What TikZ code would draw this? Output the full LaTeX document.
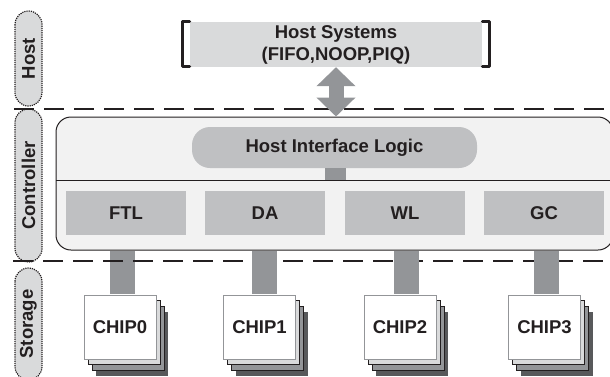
\documentclass[tikz,border=0pt]{standalone}
\usepackage{fontspec}
\setmainfont{Liberation Sans}
\usetikzlibrary{arrows.meta,positioning}

\definecolor{lightgrey}{HTML}{D9DADB}
\definecolor{midgrey}{HTML}{BFC0C2}
\definecolor{linkgrey}{HTML}{939598}
\definecolor{darkgrey}{HTML}{58595B}
\definecolor{panelgrey}{HTML}{F2F2F2}
\definecolor{inkblack}{HTML}{231F20}

\tikzset{
  labelfont/.style={text=inkblack,font=\bfseries\fontsize{18.5}{22}\selectfont},
  layerpill/.style={draw=inkblack,densely dotted,line width=1.2pt,fill=lightgrey,rounded corners=13.5pt,
    minimum width=#1,minimum height=27pt,rotate=90,inner sep=0pt,labelfont},
  modulebox/.style={fill=midgrey,minimum width=120pt,minimum height=44pt,inner sep=0pt,labelfont},
  chipbox/.style={draw=#1,line width=0.8pt,minimum width=72pt,minimum height=64pt,inner sep=0pt,labelfont},
  link/.style={draw=linkgrey,line width=25pt,shorten <=0.6pt,shorten >=0.4pt},
  layerline/.style={draw=inkblack,line width=2pt,dash pattern=on 20pt off 10pt},
  bracket/.style={draw=inkblack,line width=3.5pt,line cap=round,line join=round}
}

\begin{document}
\begin{tikzpicture}[x=1pt,y=-1pt]

    \useasboundingbox (0,0) rectangle (610,376);

    % layers
    \node[layerpill=95pt] (host) at (28.5,58.5) {Host};
    \node[layerpill=153pt] (controller) at (28.5,185.5) {Controller};
    \node[layerpill=112pt] (storage) at (28.5,324) {Storage};

    % host systems
    \node[fill=lightgrey,minimum width=292pt,minimum height=45pt,inner sep=0pt,align=center,labelfont] (hostsys)
      at (336,44.5) {Host Systems\\(FIFO,NOOP,PIQ)};
    \draw[bracket] (189.5,21.5) -- (182.5,21.5) -- (182.5,66.5) -- (189.5,66.5);
    \draw[bracket] (482.5,21.5) -- (489.5,21.5) -- (489.5,66.5) -- (482.5,66.5);

    % controller
    \node[draw=inkblack,line width=1pt,fill=panelgrey,rounded corners=15pt,minimum width=557pt,minimum height=133pt,
      inner sep=0pt] (ctrlpanel) at (334.5,183.5) {};
    \coordinate (split_left) at (56,180);
    \coordinate (split_right) at (613,180);

    \node[fill=midgrey,rounded corners=18pt,minimum width=285pt,minimum height=41pt,inner sep=0pt,labelfont] (hil)
      at (334.5,147.5) {Host Interface Logic};
    \coordinate (hil_x) at (335.5,0);
    \draw[link,line width=21pt,shorten <=0pt,shorten >=0pt] (hil.south -| hil_x) -- (split_left -| hil_x);
    \draw[draw=inkblack,line width=1pt] (split_left) -- (split_right);

    \node[modulebox] (ftl) at (126,213) {FTL};
    \node[modulebox] (da) at (265,213) {DA};
    \node[modulebox] (wl) at (405,213) {WL};
    \node[modulebox] (gc) at (544,213) {GC};

    % chips
    \foreach \name/\cx/\lx in {0/120/122.5, 1/259.5/264.5, 2/400/406.5, 3/544.5/546.5} {
      \node[chipbox=inkblack,fill=darkgrey,draw=none] at (\cx+12,343.5) {};
      \node[chipbox=inkblack,fill=linkgrey] at (\cx+8,338.5) {};
      \node[chipbox=inkblack,fill=lightgrey] at (\cx+4,332.5) {};
      \node[chipbox=linkgrey,fill=white] (chip\name) at (\cx,327) {CHIP\name};
      \coordinate (link_x\name) at (\lx,0);
    }

    \draw[link] (ctrlpanel.south -| link_x0) -- (chip0.north -| link_x0);

    % layer borders
    \coordinate (border_top) at (14,108.5);
    \coordinate (border_bottom) at (13,261);
    \draw[layerline] (border_top) -- ++(590,0);
    \draw[layerline] (border_bottom) -- ++(590,0);

    \draw[link] (ctrlpanel.south -| link_x1) -- (chip1.north -| link_x1);
    \draw[link] (ctrlpanel.south -| link_x2) -- (chip2.north -| link_x2);
    \draw[link] (ctrlpanel.south -| link_x3) -- (chip3.north -| link_x3);

    % host link
    \coordinate (host_x) at (336,0);
    \draw[{Triangle[length=19pt,width=38pt]}-{Triangle[length=19pt,width=38pt]},line width=15pt,linkgrey]
      (hostsys.south -| host_x) -- (ctrlpanel.north -| host_x);

  \end{tikzpicture}
\end{document}
